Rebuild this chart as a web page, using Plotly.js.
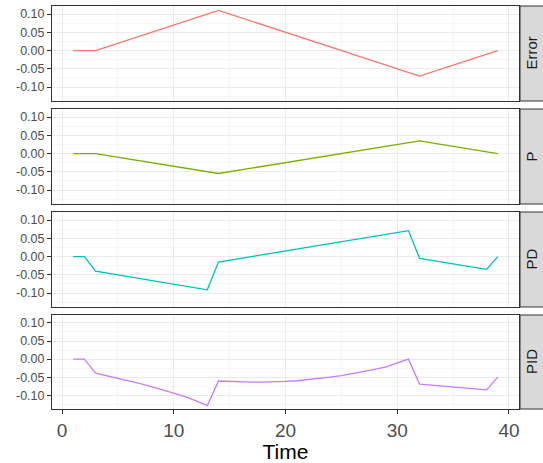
<!DOCTYPE html>
<html>
<head>
<meta charset="utf-8">
<script src="https://cdn.plot.ly/plotly-3.0.1.min.js"></script>
<style>html,body{margin:0;padding:0;background:#fff;}#chart{width:543px;height:463px;}</style>
</head>
<body>
<div id="chart"></div>
<script>
// ---- data ----
const panelNames = ["Error", "P", "PD", "PID"];
const panelColors = ["#F8766D", "#7CAE00", "#00BFC4", "#C77CFF"];

const errTime = [1, 2, 3, 14, 32, 39];
const errVal  = [0, 0, 0, 0.110, -0.070, 0.000];

const pTime = [1, 2, 3, 14, 32, 39];
const pVal  = [0, 0, 0, -0.0545, 0.0345, 0.000];

const pdTime = [1, 2, 3, 13, 14, 31, 32, 38, 39];
const pdVal  = [0, 0, -0.040, -0.091, -0.015, 0.071, -0.005, -0.035, 0.000];

const pidTime = [1, 2, 3, 5, 7, 9, 11, 12, 13, 14, 15, 16, 17, 18, 19, 20, 21, 22, 23, 24, 25, 26, 27, 28, 29, 30, 31, 32, 35, 38, 39];
const pidVal  = [0, 0, -0.039, -0.053, -0.068, -0.085, -0.1035, -0.1155, -0.1285,
                 -0.0606, -0.0622, -0.0633, -0.0638, -0.0638, -0.0632, -0.0618, -0.0598, -0.0572, -0.054, -0.050,
                 -0.0455, -0.0405, -0.0348, -0.0285, -0.0213, -0.0113, 0.000, -0.069, -0.076, -0.085, -0.050];

const xTickVals = [0, 10, 20, 30, 40];
const xTickText = ["0", "10", "20", "30", "40"];
const yTickVals = [-0.10, -0.05, 0.00, 0.05, 0.10];
const yTickText = ["-0.10", "-0.05", "0.00", "0.05", "0.10"];
const yMinorVals = [-0.125, -0.075, -0.025, 0.025, 0.075, 0.125];
const xMinorVals = [5, 15, 25, 35];

const series = [[errTime, errVal], [pTime, pVal], [pdTime, pdVal], [pidTime, pidVal]];

// ---- layout geometry ----
const W = 543, H = 463;
const mL = 52, mR = 24, mT = 6, mB = 54;
const plotH = H - mT - mB;
const plotW = W - mL - mR;
const panelPx = [[6, 101], [109, 204], [212, 307], [315, 409]];
const toPaperY = py => (H - mB - py) / plotH;

const xRange = [-0.9, 40.9];
const yRange = [-0.138, 0.122];

const traces = [];
const layout = {
  width: W, height: H,
  margin: {l: mL, r: mR, t: mT, b: mB, pad: 0},
  paper_bgcolor: "#ffffff",
  plot_bgcolor: "#ffffff",
  showlegend: false,
  font: {family: "Liberation Sans, Arial, sans-serif", color: "#4d4d4d"},
  shapes: [],
  annotations: []
};

series.forEach((s, i) => {
  const n = i + 1;
  const xa = n === 1 ? "x" : "x" + n;
  const ya = n === 1 ? "y" : "y" + n;
  traces.push({
    x: s[0], y: s[1], type: "scatter", mode: "lines",
    xaxis: xa, yaxis: ya,
    line: {color: panelColors[i], width: 1.3},
    hoverinfo: "skip"
  });
  const dom = [toPaperY(panelPx[i][1]), toPaperY(panelPx[i][0])];
  const isBottom = (i === series.length - 1);
  layout[(n === 1 ? "xaxis" : "xaxis" + n)] = {
    anchor: ya, domain: [0, 1], range: xRange,
    tickmode: "array", tickvals: xTickVals, ticktext: xTickText,
    showticklabels: isBottom,
    ticks: isBottom ? "outside" : "", ticklen: 4, tickcolor: "#333333", tickwidth: 1,
    tickfont: {size: 19, color: "#4d4d4d"},
    showgrid: true, gridcolor: "#ebebeb", gridwidth: 1,
    minor: {tickmode: "array", tickvals: xMinorVals, showgrid: true, gridcolor: "#f2f2f2", gridwidth: 0.6, ticks: ""},
    zeroline: false,
    showline: true, linecolor: "#333333", linewidth: 1, mirror: true,
    title: isBottom ? {text: "Time", font: {size: 21, color: "#000000"}, standoff: 3} : {text: ""}
  };
  layout[(n === 1 ? "yaxis" : "yaxis" + n)] = {
    anchor: xa, domain: dom, range: yRange,
    tickmode: "array", tickvals: yTickVals, ticktext: yTickText,
    ticks: "outside", ticklen: 4, tickcolor: "#333333", tickwidth: 1,
    tickfont: {size: 12.5, color: "#4d4d4d"},
    showgrid: true, gridcolor: "#ebebeb", gridwidth: 1,
    minor: {tickmode: "array", tickvals: yMinorVals, showgrid: true, gridcolor: "#f2f2f2", gridwidth: 0.6, ticks: ""},
    zeroline: false,
    showline: true, linecolor: "#333333", linewidth: 1, mirror: true
  };
  const sx0 = (520 - mL) / plotW, sx1 = (W - mL + 2) / plotW;
  layout.shapes.push({
    type: "rect", xref: "paper", yref: "paper",
    x0: sx0, x1: sx1, y0: dom[0], y1: dom[1],
    fillcolor: "#d9d9d9", line: {color: "#333333", width: 1}, layer: "below"
  });
  layout.annotations.push({
    xref: "paper", yref: "paper",
    x: (520 - mL + 11) / plotW, y: (dom[0] + dom[1]) / 2,
    text: panelNames[i], showarrow: false, textangle: -90,
    font: {size: 15, color: "#1a1a1a"},
    xanchor: "center", yanchor: "middle"
  });
});

Plotly.newPlot("chart", traces, layout, {staticPlot: true, displayModeBar: false});
</script>
</body>
</html>
